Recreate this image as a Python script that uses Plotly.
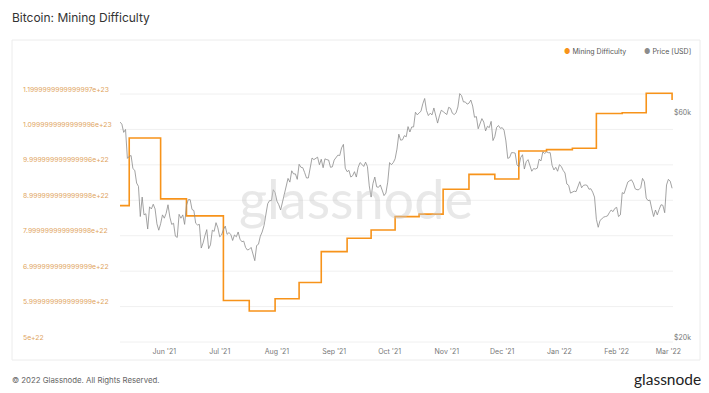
import plotly.graph_objects as go
import pandas as pd

# ---------------- data ----------------
diff_dates = ["2021-05-08", "2021-05-13", "2021-05-30", "2021-06-13", "2021-07-03", "2021-07-17",
              "2021-07-31", "2021-08-13", "2021-08-25", "2021-09-08", "2021-09-21", "2021-10-04",
              "2021-10-17", "2021-10-30", "2021-11-13", "2021-11-27", "2021-12-10", "2021-12-25",
              "2022-01-08", "2022-01-21", "2022-02-04", "2022-02-17", "2022-03-02", "2022-03-03"]
difficulty = [8.85e22, 10.76e22, 9.04e22, 8.56e22, 6.17e22, 5.875e22,
              6.22e22, 6.68e22, 7.55e22, 7.93e22, 8.16e22, 8.54e22,
              8.61e22, 9.31e22, 9.73e22, 9.60e22, 10.39e22, 10.43e22,
              10.47e22, 11.45e22, 11.47e22, 12.02e22, 12.02e22, 11.83e22]

price_start = "2021-05-08"
price_k = [
    # May 8-31 2021
    58.8, 58.2, 55.9, 56.7, 49.2, 49.7, 49.9, 46.8, 46.4, 43.6, 42.9, 37.0, 40.7, 37.3, 37.5, 34.8,
    38.8, 38.4, 39.3, 38.4, 35.7, 34.6, 35.7, 37.3,
    # Jun
    36.7, 37.6, 39.2, 36.9, 35.6, 35.8, 33.6, 33.4, 37.4, 36.7, 37.3, 35.6, 39.1, 40.2, 40.2, 38.3,
    38.1, 35.8, 35.5, 35.6, 31.7, 32.5, 33.7, 34.7, 31.6, 32.2, 34.6, 34.4, 35.9, 35.0,
    # Jul
    33.5, 33.8, 34.7, 35.3, 33.9, 34.2, 33.9, 32.9, 33.8, 33.5, 34.3, 33.1, 32.7, 32.8, 31.8, 31.4,
    31.5, 31.8, 30.8, 29.8, 32.1, 32.3, 33.6, 34.3, 35.4, 37.3, 39.4, 40.0, 40.0, 42.2, 41.6,
    # Aug
    39.9, 39.2, 38.2, 39.7, 40.9, 42.8, 44.6, 43.8, 46.3, 45.6, 45.6, 44.4, 47.8, 47.1, 47.0, 45.9,
    44.7, 44.7, 46.8, 49.3, 48.9, 49.3, 49.5, 47.7, 49.0, 47.0, 49.1, 48.9, 48.8, 47.1, 47.2,
    # Sep
    48.8, 49.3, 50.0, 49.9, 51.8, 52.7, 46.9, 46.1, 46.4, 44.9, 45.2, 46.1, 44.9, 47.1, 48.2, 47.8,
    47.3, 48.3, 47.3, 43.0, 40.7, 43.5, 44.9, 42.8, 42.7, 43.2, 42.2, 41.0, 41.5, 43.8,
    # Oct
    48.2, 47.7, 48.2, 49.1, 51.5, 55.4, 53.8, 53.9, 55.0, 54.7, 57.5, 56.0, 57.4, 57.4, 61.7, 60.9,
    61.5, 62.0, 64.3, 66.0, 62.2, 60.7, 61.4, 60.9, 63.0, 60.4, 58.5, 60.6, 62.3, 61.9, 61.3,
    # Nov
    61.0, 63.2, 62.9, 61.4, 61.0, 61.5, 63.3, 67.6, 66.9, 64.9, 64.9, 64.2, 64.5, 65.5, 63.6, 60.2,
    60.4, 56.9, 58.1, 59.8, 58.8, 56.3, 57.6, 57.2, 59.0, 53.7, 54.8, 57.3, 57.8, 57.0,
    # Dec
    57.2, 56.5, 53.6, 49.2, 49.4, 50.6, 50.6, 50.5, 47.7, 47.2, 49.4, 50.1, 46.7, 48.4, 48.9, 47.6,
    46.2, 46.8, 46.7, 46.9, 49.0, 48.6, 50.8, 50.4, 50.8, 50.6, 50.6, 47.6, 46.5, 47.1, 46.2,
    # Jan 2022
    47.7, 47.3, 46.4, 45.8, 43.4, 43.1, 41.5, 41.7, 41.9, 41.8, 42.7, 43.9, 42.6, 43.1, 43.2, 43.1,
    42.3, 42.4, 41.7, 40.7, 36.5, 35.1, 36.3, 36.7, 36.9, 37.0, 37.1, 37.7, 38.2, 37.9, 38.5,
    # Feb
    38.7, 37.0, 37.3, 41.6, 41.4, 42.4, 43.8, 44.1, 44.3, 43.6, 42.4, 42.2, 42.2, 42.6, 44.6, 43.9,
    40.5, 40.0, 40.1, 38.4, 37.0, 38.2, 37.3, 38.3, 39.2, 39.1, 37.7, 43.2,
    # Mar
    44.4, 44.0, 42.5,
]

left_tickvals = [5e22, 6e22, 7e22, 8e22, 9e22, 10e22, 11e22, 12e22]
left_ticktext = ["5e+22", "5.999999999999999e+22", "6.999999999999999e+22", "7.999999999999998e+22",
                 "8.999999999999998e+22", "9.999999999999996e+22", "1.0999999999999996e+23",
                 "1.1999999999999997e+23"]
right_tickvals = [20000, 60000]
right_ticktext = ["$20k", "$60k"]

# ---------------- figure ----------------
W, H = 709, 393
price_dates = pd.date_range(price_start, periods=len(price_k), freq="D")
price = [p * 1000 for p in price_k]

ORANGE = "#f7931a"
GRAY = "#8c8c8c"
FONT = "Inter, Roboto, sans-serif"

fig = go.Figure()
fig.add_trace(go.Scatter(x=price_dates, y=price, mode="lines", name="Price [USD]",
                         line=dict(color=GRAY, width=0.8), yaxis="y2"))
fig.add_trace(go.Scatter(x=pd.to_datetime(diff_dates), y=difficulty, mode="lines",
                         name="Mining Difficulty", line=dict(color=ORANGE, width=1.6, shape="hv"),
                         yaxis="y"))

x0, x1 = 120, 673
ytop, ybot = 90, 343
ydom = [(H - ybot) / H, (H - ytop) / H]

# left: 1e22 per 35.43 px ; right (log): one decade per 469.6 px, 20k at y=342
left_range = [5e22 - 1 / 35.43 * 1e22, 12e22 + 4 / 35.43 * 1e22]
right_range = [4.30103 - 1 / 469.6, 4.8291 + 4 / 469.6]

fig.update_layout(
    width=W, height=H,
    margin=dict(l=0, r=0, t=0, b=0, pad=0),
    paper_bgcolor="white", plot_bgcolor="white",
    showlegend=False,
    font=dict(family=FONT),
    xaxis=dict(domain=[x0 / W, x1 / W], type="date", automargin=False,
               range=["2021-05-08", "2022-03-03 12:00"],
               dtick="M1", tick0="2021-06-01", tickformat="%b '%y",
               showgrid=False, zeroline=False, showline=False, ticks="",
               tickfont=dict(size=7, color="#777"), ticklabelstandoff=3),
    yaxis=dict(domain=ydom, range=left_range, tickvals=left_tickvals, ticktext=left_ticktext,
               anchor="free", position=19 / W, ticklabelposition="inside top",
               ticklabeloverflow="allow", automargin=False, showgrid=False,
               zeroline=False, showline=False, ticks="",
               tickfont=dict(size=6.8, color="#e0a45e")),
    yaxis2=dict(overlaying="y", side="right", anchor="x", type="log", automargin=False,
                range=right_range, tickvals=right_tickvals, ticktext=right_ticktext,
                ticklabelposition="outside top", ticklabeloverflow="allow",
                showgrid=False, zeroline=False, showline=False, ticks="",
                tickfont=dict(size=7, color="#777")),
)

# horizontal gridlines at the difficulty ticks (placed through the y scale)
for v in left_tickvals:
    fig.add_shape(type="line", xref="x domain", yref="y", x0=0, x1=1, y0=v, y1=v,
                  line=dict(color="#f0f0f0", width=1), layer="below")

# panel border
fig.add_shape(type="rect", xref="paper", yref="paper",
              x0=12 / W, x1=700 / W, y0=(H - 360) / H, y1=(H - 40) / H,
              line=dict(color="#ececec", width=1), fillcolor="rgba(0,0,0,0)", layer="below")

# watermark
fig.add_annotation(text="glassnode", xref="paper", yref="paper",
                   x=356 / W, y=(H - 199) / H, showarrow=False,
                   font=dict(size=54, color="rgba(200,200,200,0.42)", family="Lato, sans-serif"))

# title
fig.add_annotation(text="Bitcoin: Mining Difficulty", xref="paper", yref="paper",
                   x=10 / W, y=(H - 17) / H, xanchor="left", yanchor="middle", showarrow=False,
                   font=dict(size=12, color="#333"))

# legend
fig.add_annotation(text=f"<span style='color:{ORANGE}'>●</span> Mining Difficulty", xref="paper", yref="paper",
                   x=562 / W, y=(H - 51) / H, xanchor="left", yanchor="middle", showarrow=False,
                   font=dict(size=7, color="#555"))
fig.add_annotation(text=f"<span style='color:{GRAY}'>●</span> Price [USD]", xref="paper", yref="paper",
                   x=642 / W, y=(H - 51) / H, xanchor="left", yanchor="middle", showarrow=False,
                   font=dict(size=7, color="#555"))

# footer
fig.add_annotation(text="© 2022 Glassnode. All Rights Reserved.", xref="paper", yref="paper",
                   x=10 / W, y=(H - 380) / H, xanchor="left", yanchor="middle", showarrow=False,
                   font=dict(size=7.8, color="#666"))
fig.add_annotation(text="glassnode", xref="paper", yref="paper",
                   x=703 / W, y=(H - 379) / H, xanchor="right", yanchor="middle", showarrow=False,
                   font=dict(size=15.5, color="#222", family="Lato, sans-serif"))

fig.write_html("out.html")
